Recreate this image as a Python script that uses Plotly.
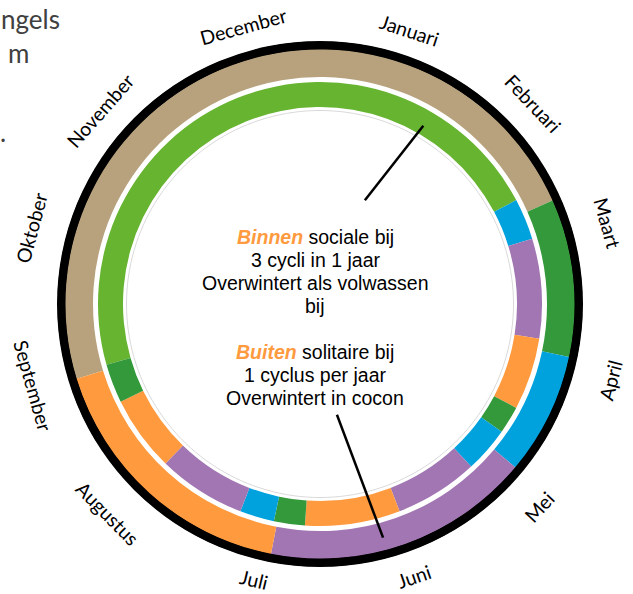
import math
import plotly.graph_objects as go

# ---- data (positions on the year in months, 0 = 1 januari, 12 = 31 december) ----
months = ["Januari", "Februari", "Maart", "April", "Mei", "Juni",
          "Juli", "Augustus", "September", "Oktober", "November", "December"]

outer_start = [8.43, 2.20, 3.40, 4.33, 6.37]
outer_end = [14.20, 3.40, 4.33, 6.37, 8.43]
outer_stage = ["winter", "volwassen", "ei", "larve", "pop"]

inner_start = [8.47, 2.07, 2.43, 3.30, 3.93, 4.17, 4.57, 5.30, 6.13, 6.40, 6.70, 7.47, 8.13]
inner_end = [14.07, 2.43, 3.30, 3.93, 4.17, 4.57, 5.30, 6.13, 6.40, 6.70, 7.47, 8.13, 8.47]
inner_stage = ["winterbij", "ei", "larve", "pop", "volwassen", "ei", "larve", "pop",
               "volwassen", "ei", "larve", "pop", "volwassen"]

stage_colors = {
    "winter": "#B8A27D",
    "winterbij": "#67B431",
    "volwassen": "#33993A",
    "ei": "#00A2DE",
    "larve": "#A275B3",
    "pop": "#FF9A3E",
}

binnen_lines = ["sociale bij", "3 cycli in 1 jaar", "Overwintert als volwassen", "bij"]
buiten_lines = ["solitaire bij", "1 cyclus per jaar", "Overwintert in cocon"]

# ---- layout ----
W, H = 633, 594
CX, CY, R = 320, 304, 263  # pixel geometry of the ring

label_angle = [18.2, 46.7, 74.3, 104.7, 132.7, 161, 193.5, 225.4, 254.2, 284.8, 311.4, 344.5]
label_radius = [288, 293, 299, 300, 299, 288.5, 283, 298, 298, 298, 293, 287.5]

fig = go.Figure()


def ring(starts, ends, stages, r0, r1):
    for s, e, st in zip(starts, ends, stages):
        fig.add_trace(go.Barpolar(
            theta=[(s + e) / 2 * 30], width=[(e - s) * 30],
            base=[r0], r=[r1 - r0],
            marker=dict(color=stage_colors[st], line=dict(width=0)),
            hoverinfo="skip", showlegend=False))


# black outer border
fig.add_trace(go.Barpolar(theta=[180], width=[360], base=[254], r=[9.5],
                          marker=dict(color="black", line=dict(width=0)),
                          hoverinfo="skip", showlegend=False))
ring(outer_start, outer_end, outer_stage, 227, 254.5)
ring(inner_start, inner_end, inner_stage, 197, 222)

# thin grey inner circle
th = [i for i in range(0, 361, 2)]
fig.add_trace(go.Scatterpolar(theta=th, r=[193.5] * len(th), mode="lines",
                              line=dict(color="#D9D9D9", width=1),
                              hoverinfo="skip", showlegend=False))

# pointer lines
fig.add_trace(go.Scatterpolar(theta=[23.4, 30.1], r=[113, 206], mode="lines",
                              line=dict(color="black", width=2.5),
                              hoverinfo="skip", showlegend=False))
fig.add_trace(go.Scatterpolar(theta=[171.3, 164.9], r=[112, 242], mode="lines",
                              line=dict(color="black", width=2.5),
                              hoverinfo="skip", showlegend=False))

x0 = (CX - R) / W
x1 = (CX + R) / W
y0 = (H - (CY + R)) / H
y1 = (H - (CY - R)) / H

fig.update_layout(
    width=W, height=H, margin=dict(l=0, r=0, t=0, b=0),
    paper_bgcolor="white", plot_bgcolor="white",
    polar=dict(
        domain=dict(x=[x0, x1], y=[y0, y1]),
        bgcolor="white",
        hole=0,
        radialaxis=dict(range=[0, R], visible=False, showgrid=False),
        angularaxis=dict(rotation=90, direction="clockwise", visible=False,
                         showgrid=False, showline=False, ticks=""),
        barmode="overlay",
    ),
)

annotations = []
for m, ang, lr in zip(months, label_angle, label_radius):
    rad = math.radians(ang)
    px = CX + lr * math.sin(rad)
    py = CY - lr * math.cos(rad)
    rot = ang if (ang < 90 or ang > 270) else ang - 180
    if rot > 180:
        rot -= 360
    annotations.append(dict(
        x=px / W, y=1 - py / H, xref="paper", yref="paper",
        text=m, showarrow=False, textangle=rot,
        font=dict(family="Lato, Open Sans, sans-serif", size=19.5, color="black"),
        xanchor="center", yanchor="middle"))

orange = "#FF9A3E"
center_x = 315
line_h = 23
blocks = [(237, "Binnen", binnen_lines), (352, "Buiten", buiten_lines)]
for y_start, head, lines in blocks:
    for j, ln in enumerate(lines):
        txt = ln
        if j == 0:
            txt = f"<b><i><span style='color:{orange}'>{head}</span></i></b> {ln}"
        annotations.append(dict(
            x=center_x / W, y=1 - (y_start + j * line_h) / H,
            xref="paper", yref="paper", text=txt, showarrow=False,
            font=dict(family="Liberation Sans, Arial, sans-serif", size=19.5, color="black"),
            xanchor="center", yanchor="middle"))

# cropped title text from the slide at the top-left
for txt, x, y in [("ngels", -1, 19), ("m", 6, 53), (".", -2, 132)]:
    annotations.append(dict(
        x=x / W, y=1 - y / H, xref="paper", yref="paper", text=txt, showarrow=False,
        font=dict(family="Lato, Open Sans, sans-serif", size=26, color="#404040"),
        xanchor="left", yanchor="middle"))

fig.update_layout(annotations=annotations)
fig.write_html("out.html", config={"displayModeBar": False},
               post_script="document.body.style.margin='0';document.body.style.overflow='hidden';")
